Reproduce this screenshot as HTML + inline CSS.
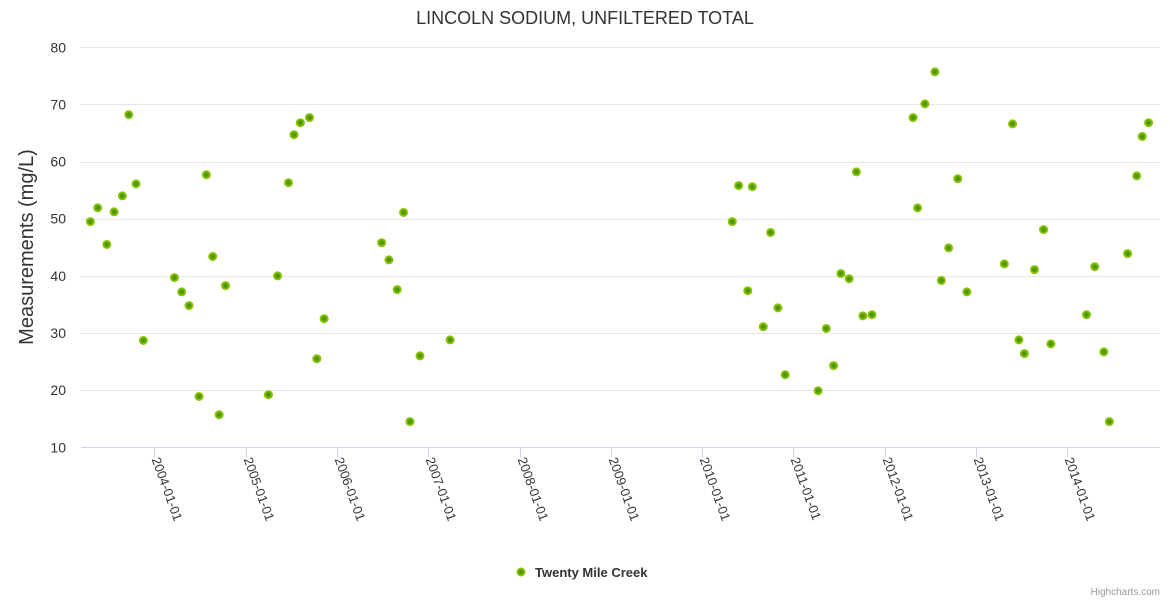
<!DOCTYPE html>
<html><head><meta charset="utf-8"><style>
body{margin:0;background:#fff;}
svg{display:block;font-family:"Liberation Sans",sans-serif;}
</style></head><body>
<svg id="chart" width="1170" height="600">
<rect width="1170" height="600" fill="#fff"/>
<text x="585" y="24" text-anchor="middle" font-size="18" fill="#333">LINCOLN SODIUM, UNFILTERED TOTAL</text>
<text transform="translate(33,247) rotate(-90)" text-anchor="middle" font-size="20" fill="#333">Measurements (mg/L)</text>
<g id="grid"></g><g id="xaxis"></g><g id="points"></g>
<g>
<circle cx="521" cy="572" r="3.5" fill="#4c9a00" stroke="#88c000" stroke-width="2"/>
<text x="535" y="577" font-size="13" font-weight="bold" fill="#333">Twenty Mile Creek</text>
</g>
<text x="1160" y="595" text-anchor="end" font-size="10" fill="#999">Highcharts.com</text>
</svg>
<script>
const dates=[2003.30,2003.38,2003.48,2003.56,2003.65,2003.72,2003.80,2003.88,2004.22,2004.30,2004.38,2004.49,2004.57,2004.64,2004.71,2004.78,2005.25,2005.35,2005.47,2005.53,2005.60,2005.70,2005.78,2005.86,2006.49,2006.57,2006.66,2006.73,2006.80,2006.91,2007.24,
2010.33,2010.40,2010.50,2010.55,2010.67,2010.75,2010.83,2010.91,2011.27,2011.36,2011.44,2011.52,2011.61,2011.69,2011.76,2011.86,2012.31,2012.36,2012.44,2012.55,2012.62,2012.70,2012.80,2012.90,2013.31,2013.40,2013.47,2013.53,2013.64,2013.74,2013.82,2014.21,2014.30,2014.40,2014.46,2014.66,2014.76,2014.82,2014.89];
const values=[49.5,51.9,45.5,51.2,54.0,68.2,56.1,28.7,39.7,37.2,34.8,18.9,57.7,43.4,15.7,38.3,19.2,40.0,56.3,64.7,66.8,67.7,25.5,32.5,45.8,42.8,37.6,51.1,14.5,26.0,28.8,
49.5,55.8,37.4,55.6,31.1,47.6,34.4,22.7,19.9,30.8,24.3,40.4,39.5,58.2,33.0,33.2,67.7,51.9,70.1,75.7,39.2,44.9,57.0,37.2,42.1,66.6,28.8,26.4,41.1,48.1,28.1,33.2,41.6,26.7,14.5,43.9,57.5,64.4,66.8];
const yTicks=[10,20,30,40,50,60,70,80];
const xTicks=[2004,2005,2006,2007,2008,2009,2010,2011,2012,2013,2014];
const NS='http://www.w3.org/2000/svg';
const L=81,R=1160,T=47.3,B=447.3,xMin=2003.197,xMax=2015.015,yMin=10,yMax=80;
const xs=v=>L+(v-xMin)/(xMax-xMin)*(R-L);
const ys=v=>B-(v-yMin)/(yMax-yMin)*(B-T);
function mk(tag,attrs,parent){const e=document.createElementNS(NS,tag);for(const k in attrs)e.setAttribute(k,attrs[k]);parent.appendChild(e);return e;}
const grid=document.getElementById('grid');
yTicks.forEach(t=>{
 const y=Math.round(ys(t))+0.5;
 const ln=mk('line',{x1:L,x2:R,y1:y,y2:y,stroke:t===10?'#ccd6eb':'#e6e6e6','stroke-width':1},grid);
 
 
 const tx=mk('text',{x:66,y:ys(t)+5,'text-anchor':'end','font-size':14,fill:'#333'},grid);
 tx.textContent=t;
 
 
});
const xa=document.getElementById('xaxis');
xTicks.forEach(t=>{
 const x=Math.round(xs(t))+0.5;
 const tk=mk('line',{x1:x,x2:x,y1:B,y2:B+10,stroke:'#ccd6eb'},xa);
 
 
 const tx=mk('text',{transform:`translate(${x-3},${B+12}) rotate(70)`,'font-size':13,fill:'#333'},xa);
 tx.textContent=t+'-01-01';
 
 
});
const pg=document.getElementById('points');
dates.forEach((d,i)=>{
 const c=mk('circle',{cx:xs(d),cy:ys(values[i]),r:3.5,fill:'#4c9a00',stroke:'#88c000','stroke-width':2},pg);
 
 
});
</script>
</body></html>
